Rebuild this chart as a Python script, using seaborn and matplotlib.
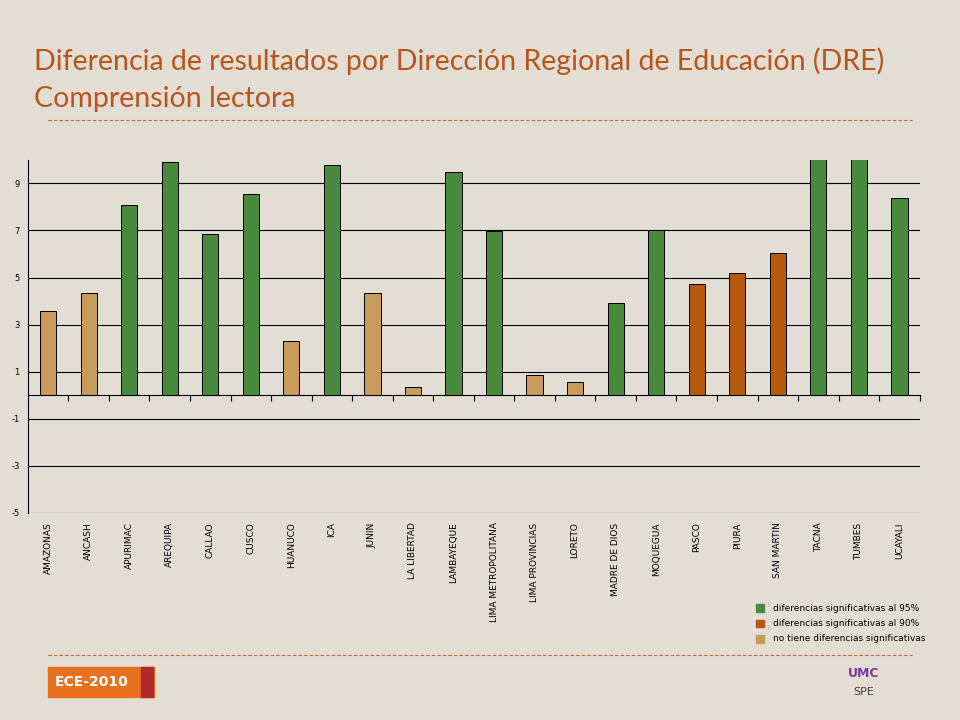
import numpy as np
import pandas as pd
import matplotlib
matplotlib.use("Agg")
import matplotlib.pyplot as plt
import seaborn as sns
from matplotlib.patches import Rectangle
from matplotlib.lines import Line2D

regions = ["AMAZONAS", "ANCASH", "APURIMAC", "AREQUIPA", "CALLAO", "CUSCO", "HUANUCO",
           "ICA", "JUNIN", "LA LIBERTAD", "LAMBAYEQUE", "LIMA METROPOLITANA",
           "LIMA PROVINCIAS", "LORETO", "MADRE DE DIOS", "MOQUEGUA", "PASCO", "PIURA",
           "SAN MARTIN", "TACNA", "TUMBES", "UCAYALI"]
values = [3.6, 4.36, 8.1, 9.9, 6.87, 8.53, 2.32, 9.8, 4.36, 0.36, 9.47, 6.96,
          0.87, 0.57, 3.94, 7.0, 4.74, 5.21, 6.06, 10.5, 10.5, 8.36]
signif = ["no", "no", "95", "95", "95", "95", "no", "95", "no", "no", "95", "95",
          "no", "no", "95", "95", "90", "90", "90", "95", "95", "95"]
y_ticks = [-5, -3, -1, 1, 3, 5, 7, 9]

palette = {"95": "#4a8a3f", "90": "#b45a0f", "no": "#c89a5c"}
legend_labels = {"95": "diferencias significativas al 95%",
                 "90": "diferencias significativas al 90%",
                 "no": "no tiene diferencias significativas"}
bg = "#e3ded4"

df = pd.DataFrame({"region": regions, "value": values, "sig": signif})

fig = plt.figure(figsize=(9.6, 7.2), dpi=100, facecolor=bg)
ax = fig.add_axes([0.029, 0.2875, 0.929, 0.4905])
ax.set_facecolor(bg)

sns.barplot(data=df, x="region", y="value", hue="sig", palette=palette, dodge=False,
            width=0.4, saturation=1, edgecolor="black", linewidth=0.7, legend=False, ax=ax)

ax.set_ylim(-5, 10)
ax.set_xlim(-0.5, len(regions) - 0.5)
ax.set_yticks(y_ticks)
ax.set_yticklabels([str(t) for t in y_ticks], fontsize=6)
for t in y_ticks:
    ax.axhline(t, color="black", lw=0.8, zorder=0)
ax.tick_params(axis="y", length=0, pad=6)

# x axis at zero with ticks between categories
ax.spines["bottom"].set_position(("data", 0))
ax.set_xticks(np.arange(len(regions) + 1) - 0.5)
ax.set_xticklabels([])
ax.tick_params(axis="x", direction="out", length=4, width=0.8)
for s in ["top", "right"]:
    ax.spines[s].set_visible(False)
ax.set_xlabel("")
ax.set_ylabel("")
for i, r in enumerate(regions):
    ax.text(i, -5.4, r, rotation=90, ha="center", va="top", fontsize=6.5)

fig.text(0.035, 0.915, "Diferencia de resultados por Dirección Regional de Educación (DRE)",
         fontsize=20.5, color="#b8541c", family="Lato", va="center")
fig.text(0.035, 0.863, "Comprensión lectora", fontsize=20.5, color="#b8541c",
         family="Lato", va="center")
for y in [0.833, 0.09]:
    fig.add_artist(Line2D([0.05, 0.95], [y, y], color="#c0603a", lw=0.8,
                          ls=(0, (3, 2))))

# legend
for k, (key, lab) in enumerate(legend_labels.items()):
    y = 0.155 - k * 0.021
    fig.add_artist(Rectangle((0.788, y - 0.0055), 0.008, 0.011, color=palette[key]))
    fig.text(0.805, y, lab, fontsize=6.5, va="center")

# footer
fig.add_artist(Rectangle((0.05, 0.032), 0.11, 0.042, color="#e8701e"))
fig.add_artist(Rectangle((0.147, 0.032), 0.012, 0.042, color="#b02a2a"))
fig.text(0.095, 0.053, "ECE-2010", color="white", fontsize=10, fontweight="bold",
         ha="center", va="center")
fig.text(0.9, 0.06, "UMC", color="#7a3a9a", fontsize=9, fontweight="bold", ha="center")
fig.text(0.9, 0.035, "SPE", color="#444444", fontsize=8, ha="center")

fig.savefig("out.png", dpi=100, facecolor=bg)
